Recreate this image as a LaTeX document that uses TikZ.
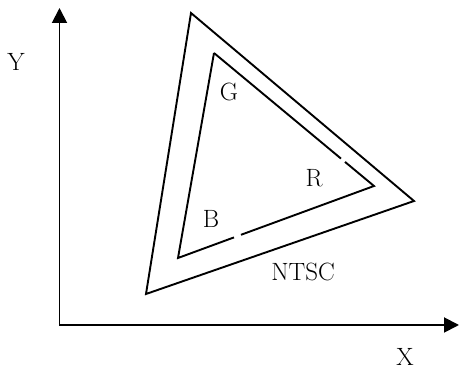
\documentclass[tikz,border=0pt]{standalone}
\usetikzlibrary{arrows.meta}
\begin{document}
\begin{tikzpicture}[x=1pt,y=-1pt,
  line/.style={line width=1.9pt},
  lbl/.style={inner sep=0pt,font=\fontsize{25}{30}\selectfont}]
\useasboundingbox (0,0) rectangle (459,371);
% axes
\coordinate (ytip) at (59.5,8);
\coordinate (orig) at (59.5,325);
\coordinate (xtip) at (459,325);
\draw[line,{Triangle[length=15pt,width=15pt]}-{Triangle[length=15pt,width=15pt]}] (ytip) -- (orig) -- (xtip);
% outer triangle
\coordinate (o1) at (191,13);
\coordinate (o2) at (414,201);
\coordinate (o3) at (146,294);
\draw[line] (o1) -- (o2) -- (o3) -- cycle;
% inner triangle with gaps
\coordinate (i1) at (214,53);
\coordinate (i2) at (374,186);
\coordinate (i3) at (178,258);
\coordinate (g1a) at (341,158.6);
\coordinate (g1b) at (345,161.9);
\coordinate (g2a) at (241,234.8);
\coordinate (g2b) at (234,237.4);
\draw[line] (i1) -- (g1a);
\draw[line] (g1b) -- (i2) -- (g2a);
\draw[line] (g2b) -- (i3) -- (i1);
% labels
\node[lbl] (ly) at (16,62) {Y};
\node[lbl] (lx) at (405,357) {X};
\node[lbl] (lg) at (229,92) {G};
\node[lbl] (lr) at (314,178) {R};
\node[lbl] (lb) at (211,219) {B};
\node[lbl] (ln) at (303,272) {NTSC};
\end{tikzpicture}
\end{document}
